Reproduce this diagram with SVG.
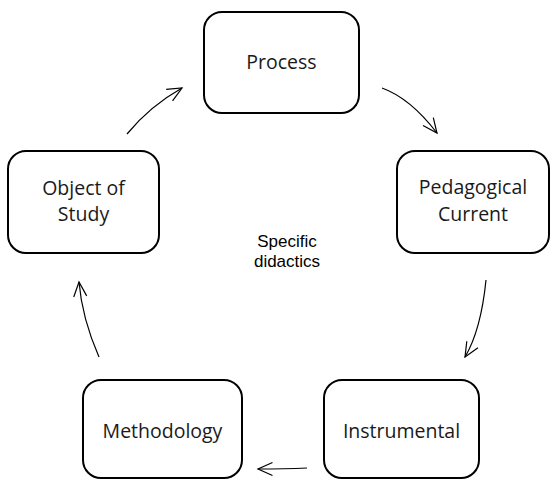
<svg xmlns="http://www.w3.org/2000/svg" width="551" height="480" viewBox="0 0 551 480">
  <style>
    .box { fill: #ffffff; stroke: #000000; stroke-width: 2; }
    .label { font-family: "Open Sans", "Noto Sans", sans-serif; font-size: 19.5px; fill: #1a1a1a; text-anchor: middle; }
    .center { font-family: "Liberation Sans", Arial, sans-serif; font-size: 17px; fill: #000000; text-anchor: middle; }
    .link { fill: none; stroke: #000000; stroke-width: 1.2; marker-end: url(#openArrow); }
  </style>
  <defs>
    <marker id="openArrow" markerUnits="userSpaceOnUse" markerWidth="20" markerHeight="20" viewBox="-16 -10 20 20" refX="0" refY="0" orient="auto">
      <path d="M -14.5 -6.5 L 0 0 L -14.5 6.5" fill="none" stroke="#000000" stroke-width="1.2"/>
    </marker>
  </defs>
  <rect width="551" height="480" fill="#ffffff"/>

  <g id="process">
    <rect class="box" x="204" y="12" width="155" height="101" rx="18"/>
    <text class="label" x="281.5" y="69">Process</text>
  </g>

  <g id="pedagogical-current">
    <rect class="box" x="397" y="151" width="152" height="102" rx="18"/>
    <text class="label" x="473" y="194">Pedagogical</text>
    <text class="label" x="473" y="221">Current</text>
  </g>

  <g id="object-of-study">
    <rect class="box" x="8" y="151" width="151" height="102" rx="18"/>
    <text class="label" x="83.5" y="195">Object of</text>
    <text class="label" x="83.5" y="221">Study</text>
  </g>

  <g id="instrumental">
    <rect class="box" x="324" y="380" width="155" height="98" rx="18"/>
    <text class="label" x="401.5" y="438">Instrumental</text>
  </g>

  <g id="methodology">
    <rect class="box" x="83" y="380" width="159" height="98" rx="18"/>
    <text class="label" x="162.5" y="438">Methodology</text>
  </g>

  <g id="specific-didactics">
    <text class="center" x="287" y="247">Specific</text>
    <text class="center" x="287" y="267">didactics</text>
  </g>

  <g id="connectors">
    <path class="link" d="M 127 134 Q 150 106 182 88"/>
    <path class="link" d="M 382 88 Q 410 98 437 133"/>
    <path class="link" d="M 486 280 Q 481 330 465 357"/>
    <path class="link" d="M 307 468 Q 285 469 258 469"/>
    <path class="link" d="M 99 357 Q 82 318 79 282"/>
  </g>
</svg>
